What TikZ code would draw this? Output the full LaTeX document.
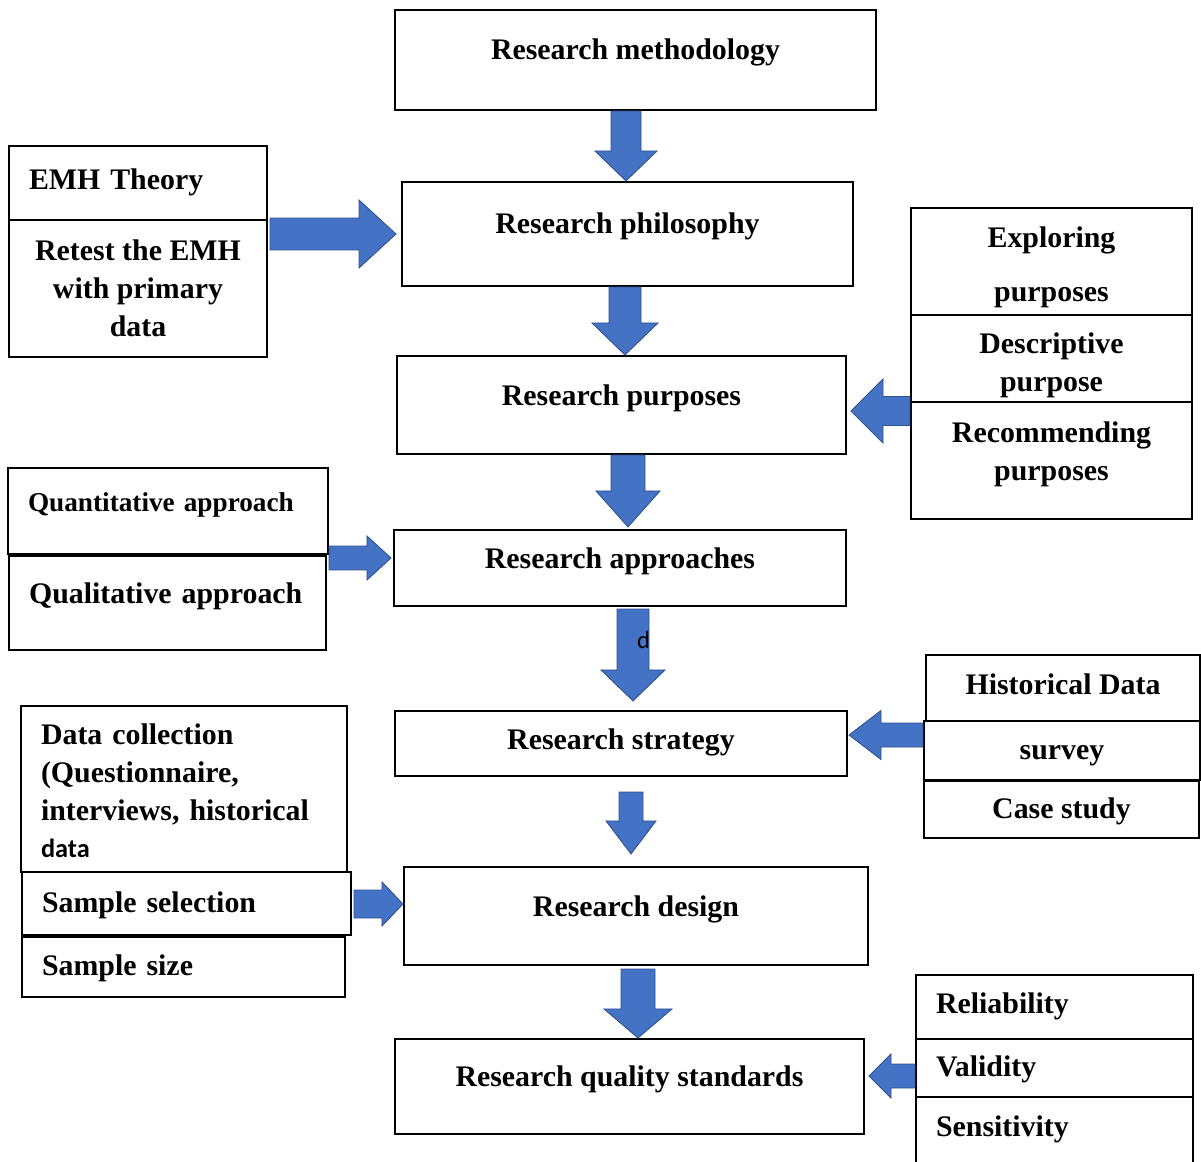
\documentclass[tikz,border=0pt]{standalone}
\usepackage{fontspec}
\setmainfont{Liberation Serif}
\newfontfamily\calibri{Carlito}
\usetikzlibrary{calc}

\definecolor{arrowFill}{RGB}{68,114,196}
\definecolor{arrowLine}{RGB}{47,82,143}

\tikzset{
    box/.style={draw,line width=1.2pt,align=center,inner sep=0pt,font=\bfseries\fontsize{17}{21.5}\selectfont},
    lbox/.style={box,align=left,inner xsep=0.4cm},
    high/.style={text height=12pt,text depth=12pt},
    low/.style={text height=12pt,text depth=5pt},
    lower/.style={text height=12pt,text depth=2pt},
    barrow/.style={fill=arrowFill,draw=arrowLine,line width=0.5pt}
}

% block arrow: start, tip, half shaft, half head, head length
\newcommand{\blockarrow}[5]{%
    \path ($(#2)!#5!(#1)$) coordinate (hb);
    \filldraw[barrow] ($(#1)!#3!90:(#2)$) -- ($(hb)!#3!90:(#2)$) -- ($(hb)!#4!90:(#2)$) -- (#2)
        -- ($(hb)!#4!-90:(#2)$) -- ($(hb)!#3!-90:(#2)$) -- ($(#1)!#3!-90:(#2)$) -- cycle;}

\begin{document}
\begin{tikzpicture}[x=0.02cm,y=-0.02cm]
        \useasboundingbox (0,0) rectangle (1201,1162);

        % Middle column
        \node[box,high,minimum width=9.62cm,minimum height=2cm] (method) at (635.5,60) {Research methodology};
        \node[box,high,minimum width=9.02cm,minimum height=2.08cm] (philosophy) at (627.5,234) {Research philosophy};
        \node[box,high,minimum width=8.98cm,minimum height=1.96cm] (purposes) at (621.5,405) {Research purposes};
        \node[box,high,minimum width=9.04cm,minimum height=1.52cm] (approaches) at (620,568) {Research approaches};
        \node[box,low,minimum width=9.04cm,minimum height=1.30cm] (strategy) at (621,743.5) {Research strategy};
        \node[box,high,minimum width=9.28cm,minimum height=1.96cm] (design) at (636,916) {Research design};
        \node[box,high,minimum width=9.38cm,minimum height=1.90cm] (quality) at (629.5,1086.5) {Research quality standards};

        % Left side boxes
        \node[lbox,low,text width=4.36cm,minimum height=1.48cm] (emhTheory) at (138,183) {EMH Theory};
        \node[box,minimum width=5.16cm,minimum height=2.74cm] (retestEmh) at (138,288.5) {Retest the EMH\\with primary\\data};
        \node[lbox,high,text width=5.6cm,minimum height=1.72cm,font=\bfseries\fontsize{15.5}{19}\selectfont] (quantApp) at (168,511) {Quantitative approach};
        \node[lbox,high,text width=5.54cm,minimum height=1.88cm] (qualApp) at (167.5,603) {Qualitative approach};
        \node[lbox,text width=5.72cm,minimum height=3.32cm] (dataColl) at (184,789) {\rule{0pt}{14pt}Data collection\\(Questionnaire,\\interviews, historical\\{\calibri\fontsize{15}{17}\selectfont data}};
        \node[lbox,lower,text width=5.78cm,minimum height=1.26cm] (sampleSel) at (186.5,903.5) {Sample selection};
        \node[lbox,lower,text width=5.66cm,minimum height=1.20cm] (sampleSize) at (183.5,967) {Sample size};

        % Right side boxes
        \node[box,minimum width=5.62cm,minimum height=2.14cm] (explPurp) at (1051.5,261.5) {\rule{0pt}{18.5pt}Exploring\\[9.5pt]purposes};
        \node[box,minimum width=5.62cm,minimum height=1.74cm] (descPurp) at (1051.5,358.5) {\rule{0pt}{19.7pt}Descriptive\\purpose};
        \node[box,minimum width=5.62cm,minimum height=2.34cm] (recPurp) at (1051.5,460.5) {Recommending\\purposes\rule[-10.5pt]{0pt}{0pt}};
        \node[box,low,minimum width=5.48cm,minimum height=1.32cm] (histData) at (1063,688) {Historical Data};
        \node[box,lower,minimum width=5.52cm,minimum height=1.18cm] (survey) at (1062,750.5) {survey};
        \node[box,lower,minimum width=5.50cm,minimum height=1.14cm] (caseStudy) at (1061.5,809.5) {Case study};
        \node[lbox,low,text width=4.74cm,minimum height=1.28cm] (reliability) at (1054.5,1007) {Reliability};
        \node[lbox,lower,text width=4.74cm,minimum height=1.16cm] (validity) at (1054.5,1068) {Validity};
        \node[lbox,high,text width=4.74cm,minimum height=1.56cm] (sensitivity) at (1054.5,1136) {Sensitivity};

        % Arrows down the middle
        \coordinate (a1s) at (method.south -| 626,0);
        \coordinate (a1t) at (philosophy.north -| 626,0);
        \blockarrow{a1s}{a1t}{0.30cm}{0.62cm}{0.60cm}
        \coordinate (a2s) at (philosophy.south -| 625,0);
        \coordinate (a2t) at (purposes.north -| 625,0);
        \blockarrow{a2s}{a2t}{0.32cm}{0.66cm}{0.64cm}
        \coordinate (a3s) at (purposes.south -| 628,0);
        \coordinate (a3t) at ($(approaches.north -| 628,0)+(0,-2)$);
        \blockarrow{a3s}{a3t}{0.34cm}{0.64cm}{0.72cm}
        \coordinate (a4s) at ($(approaches.south -| 633,0)+(0,2)$);
        \coordinate (a4t) at ($(strategy.north -| 633,0)+(0,-9)$);
        \blockarrow{a4s}{a4t}{0.32cm}{0.64cm}{0.62cm}
        \coordinate (a5s) at ($(strategy.south -| 631,0)+(0,15)$);
        \coordinate (a5t) at ($(design.north -| 631,0)+(0,-12)$);
        \blockarrow{a5s}{a5t}{0.24cm}{0.50cm}{0.66cm}
        \coordinate (a6s) at ($(design.south -| 638,0)+(0,3)$);
        \coordinate (a6t) at (quality.north -| 638,0);
        \blockarrow{a6s}{a6t}{0.34cm}{0.68cm}{0.58cm}

        \node[font=\calibri\fontsize{14}{16}\selectfont,inner sep=0pt] (dMark) at (643.5,640) {d};

        % Arrows from the left
        \coordinate (r1s) at ($(retestEmh.east |- 0,234)+(2,0)$);
        \coordinate (r1t) at ($(philosophy.west |- 0,234)+(-5,0)$);
        \blockarrow{r1s}{r1t}{0.32cm}{0.68cm}{0.74cm}
        \coordinate (r2s) at (quantApp.east |- 0,558);
        \coordinate (r2t) at ($(approaches.west |- 0,558)+(-2,0)$);
        \blockarrow{r2s}{r2t}{0.24cm}{0.44cm}{0.48cm}
        \coordinate (r3s) at ($(sampleSel.east |- 0,904)+(2,0)$);
        \coordinate (r3t) at (design.west |- 0,904);
        \blockarrow{r3s}{r3t}{0.28cm}{0.44cm}{0.42cm}

        % Arrows from the right
        \coordinate (l1s) at (recPurp.west |- 0,411);
        \coordinate (l1t) at ($(purposes.east |- 0,411)+(4,0)$);
        \blockarrow{l1s}{l1t}{0.29cm}{0.64cm}{0.64cm}
        \coordinate (l2s) at (survey.west |- 0,735);
        \coordinate (l2t) at ($(strategy.east |- 0,735)+(1,0)$);
        \blockarrow{l2s}{l2t}{0.24cm}{0.49cm}{0.64cm}
        \coordinate (l3s) at (validity.west |- 0,1076);
        \coordinate (l3t) at ($(quality.east |- 0,1076)+(4,0)$);
        \blockarrow{l3s}{l3t}{0.24cm}{0.44cm}{0.44cm}
\end{tikzpicture}
\end{document}
